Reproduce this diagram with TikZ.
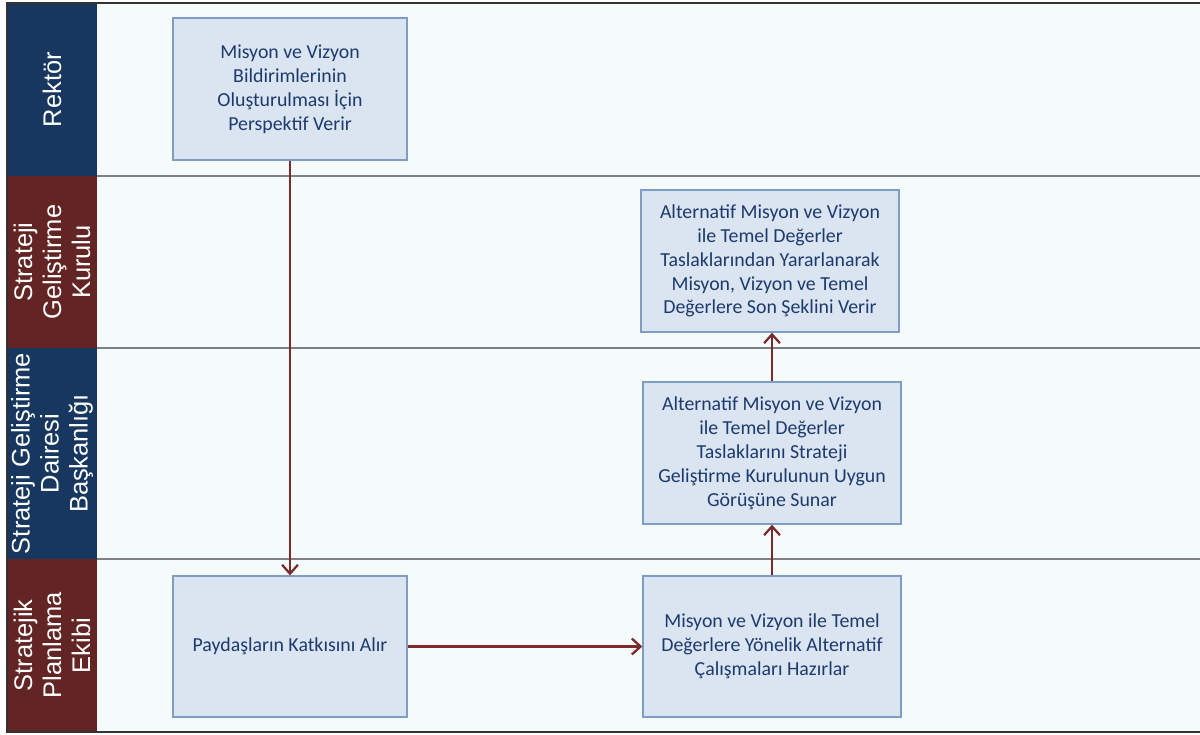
\documentclass[tikz,border=0pt]{standalone}
\usepackage{fontspec}
\setmainfont{Carlito}
\newfontfamily\headfont{Liberation Sans}
\usetikzlibrary{arrows.meta}
\definecolor{navyhead}{HTML}{17375E}
\definecolor{redhead}{HTML}{632523}
\definecolor{lanebg}{HTML}{F5FAFB}
\definecolor{boxfill}{HTML}{DBE5F1}
\definecolor{boxline}{HTML}{7F9DC4}
\definecolor{boxtext}{HTML}{1C3A6E}
\definecolor{flowline}{HTML}{7B2B2B}
\begin{document}
\begin{tikzpicture}[x=0.02cm, y=-0.02cm,
		lanehead/.style={rotate=90, text=white, align=center, font=\headfont\fontsize{14.5}{16.5}\selectfont},
		taskbox/.style={draw=boxline, line width=0.8pt, fill=boxfill, text=boxtext, align=center, inner sep=0pt,
			font=\fontsize{11.3}{13.6}\selectfont},
		flow/.style={draw=flowline, line width=1.4pt, -{Straight Barb[length=5pt, width=9pt, line width=1.3pt]}}]
		\useasboundingbox (0, 0) rectangle (1200, 734);

		% lanes
		\fill[lanebg] (97, 3) rectangle (1200, 732);
		\fill[navyhead] (7, 3) rectangle (97, 176);
		\fill[redhead] (7, 176) rectangle (97, 348);
		\fill[navyhead] (7, 348) rectangle (97, 559);
		\fill[redhead] (7, 559) rectangle (97, 732);
		\foreach \y in {176, 348, 559}{\draw[gray, line width=0.9pt] (97, \y) -- (1200, \y);}
		\draw[black!80, line width=0.8pt] (1200, 3) -- (7, 3) -- (7, 732) -- (1200, 732);

		\node[lanehead] (rektor) at (52, 89.5) {Rekt\"or};
		\node[lanehead] (kurul) at (52, 262) {Strateji\\Geli\c{s}tirme\\Kurulu};
		\node[lanehead] (daire) at (52, 453.5) {Strateji Geli\c{s}tirme\\Dairesi\\Ba\c{s}kanl\i\u{g}\i};
		\node[lanehead] (ekip) at (52, 645.5) {Stratejik\\Planlama\\Ekibi};

		% tasks
		\node[taskbox, minimum width=4.68cm, minimum height=2.84cm] (perspektif) at (290, 89)
			{Misyon ve Vizyon\\Bildirimlerinin\\Oluşturulması İçin\\Perspektif Verir};
		\node[taskbox, minimum width=5.16cm, minimum height=2.84cm] (sonsekil) at (770, 261)
			{Alternatif Misyon ve Vizyon\\ile Temel Değerler\\Taslaklarından Yararlanarak\\Misyon, Vizyon ve Temel\\Değerlere Son Şeklini Verir};
		\node[taskbox, minimum width=5.16cm, minimum height=2.84cm] (sunar) at (772, 453)
			{Alternatif Misyon ve Vizyon\\ile Temel Değerler\\Taslaklarını Strateji\\Geliştirme Kurulunun Uygun\\Görüşüne Sunar};
		\node[taskbox, minimum width=4.68cm, minimum height=2.82cm] (katki) at (290, 646.5)
			{Paydaşların Katkısını Alır};
		\node[taskbox, minimum width=5.16cm, minimum height=2.82cm] (hazirlar) at (772, 646.5)
			{Misyon ve Vizyon ile Temel\\Değerlere Yönelik Alternatif\\Çalışmaları Hazırlar};

		% flow
		\draw[flow] (perspektif.south) -- (katki.north);
		\draw[flow] (katki.east) -- (hazirlar.west);
		\draw[flow] (hazirlar.north) -- (sunar.south);
		\draw[flow] (sunar.north) -- (sunar.north |- sonsekil.south);
	\end{tikzpicture}
\end{document}
